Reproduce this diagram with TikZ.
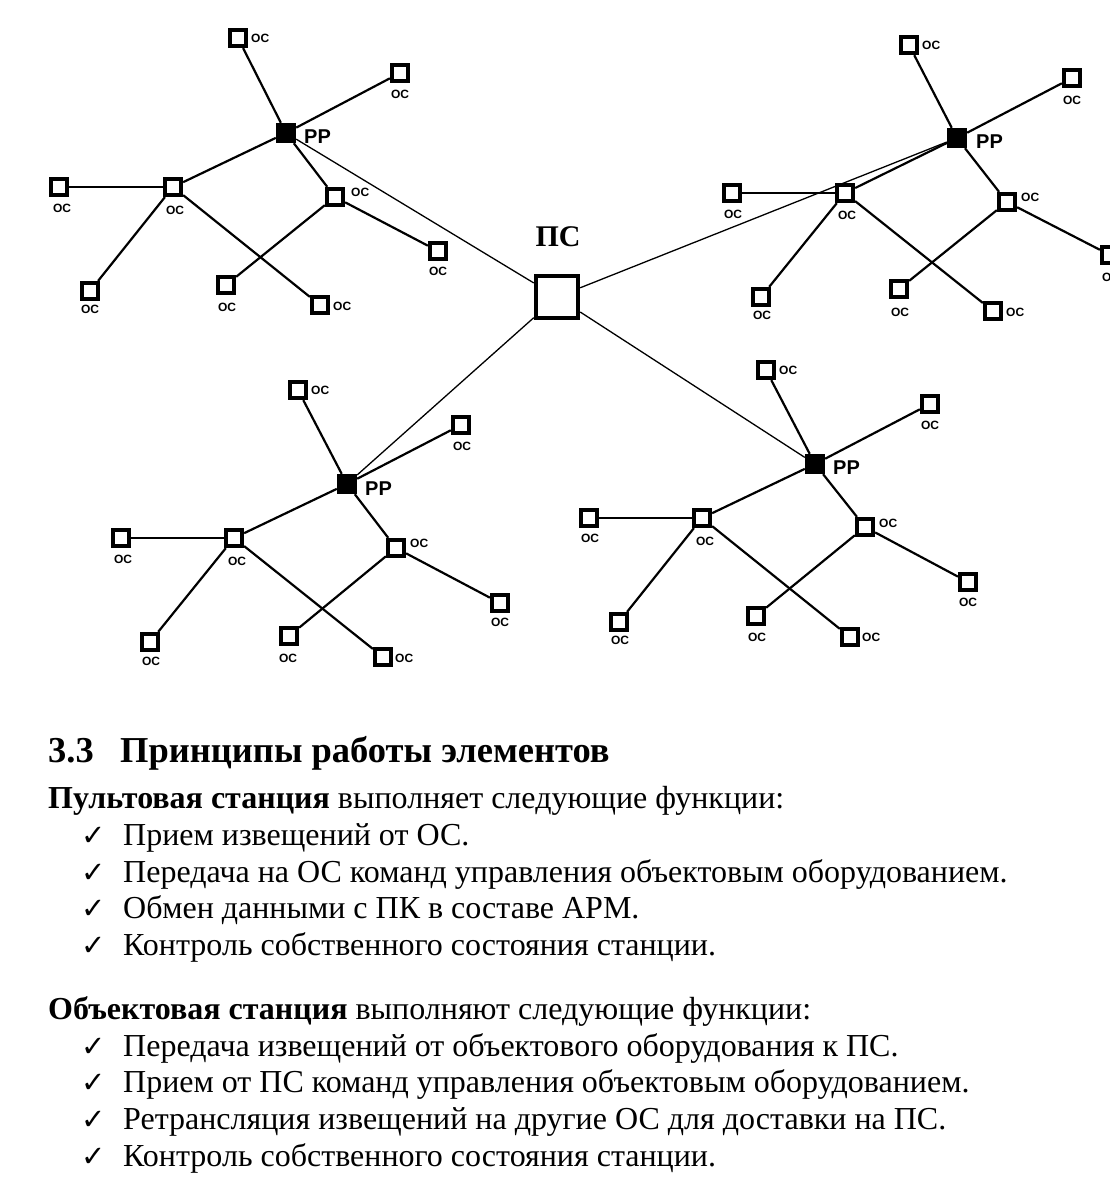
\documentclass[tikz,border=0pt]{standalone}
\usepackage{fontspec}
\setmainfont{Liberation Serif}
\newfontfamily\labfont{Liberation Sans}
\newfontfamily\symfont{DejaVu Sans}
\begin{document}
\begin{tikzpicture}[x=1pt,y=-1pt,
  os/.style={draw,line width=3.8pt,inner sep=0pt,minimum size=16.5pt,fill=white},
  rr/.style={fill=black,inner sep=0pt,minimum size=20pt},
  ps/.style={draw,line width=4.5pt,inner sep=0pt,minimum size=42pt,fill=white},
  oslab/.style={font=\labfont\bfseries\fontsize{12}{13}\selectfont,inner sep=0pt},
  rrlab/.style={font=\labfont\bfseries\fontsize{20}{22}\selectfont,inner sep=0pt,anchor=west},
  link/.style={line width=2.2pt},
  main/.style={line width=1.3pt},
  body/.style={font=\fontsize{32}{36}\selectfont,anchor=base west,inner sep=0pt},
  head/.style={font=\bfseries\fontsize{36.5}{40}\selectfont,anchor=base west,inner sep=0pt},
  chk/.style={font=\symfont\fontsize{29}{32}\selectfont,anchor=base west,inner sep=0pt},
]
\useasboundingbox (0,0) rectangle (1110,1200);

% ---------- central station ----------
\node[ps] (PS) at (557,297) {};
\node[font=\bfseries\fontsize{30}{32}\selectfont,inner sep=0pt] (PSl) at (558,237) {ПС};

% ---------- cluster A (top left) ----------
\node[rr] (Ap) at (286,133) {};
\node[rrlab] (Apl) at (304,137) {РР};
\node[os] (A1) at (238,38) {};   \node[oslab,anchor=west] (A1l) at (251,38) {ОС};
\node[os] (A2) at (400,73) {};   \node[oslab] (A2l) at (400,94) {ОС};
\node[os] (A3) at (173,187) {};  \node[oslab] (A3l) at (175,210) {ОС};
\node[os] (A4) at (59,187) {};   \node[oslab] (A4l) at (62,208) {ОС};
\node[os] (A5) at (335,197) {};  \node[oslab,anchor=west] (A5l) at (351,192) {ОС};
\node[os] (A6) at (90,291) {};   \node[oslab] (A6l) at (90,309) {ОС};
\node[os] (A7) at (226,285) {};  \node[oslab] (A7l) at (227,307) {ОС};
\node[os] (A8) at (320,305) {};  \node[oslab,anchor=west] (A8l) at (333,306) {ОС};
\node[os] (A9) at (438,251) {};  \node[oslab] (A9l) at (438,271) {ОС};

% ---------- cluster B (top right) ----------
\node[rr] (Bp) at (957,138) {};
\node[rrlab] (Bpl) at (976,142) {РР};
\node[os] (B1) at (909,45) {};   \node[oslab,anchor=west] (B1l) at (922,45) {ОС};
\node[os] (B2) at (1072,78) {};  \node[oslab] (B2l) at (1072,100) {ОС};
\node[os] (B3) at (845,193) {};  \node[oslab] (B3l) at (847,215) {ОС};
\node[os] (B4) at (732,193) {};  \node[oslab] (B4l) at (733,214) {ОС};
\node[os] (B5) at (1007,202) {}; \node[oslab,anchor=west] (B5l) at (1021,197) {ОС};
\node[os] (B6) at (761,297) {};  \node[oslab] (B6l) at (762,315) {ОС};
\node[os] (B7) at (899,289) {};  \node[oslab] (B7l) at (900,312) {ОС};
\node[os] (B8) at (993,311) {};  \node[oslab,anchor=west] (B8l) at (1006,312) {ОС};
\node[os] (B9) at (1110,255) {}; \node[oslab] (B9l) at (1111,277) {ОС};

% ---------- cluster C (bottom left) ----------
\node[rr] (Cp) at (347,484) {};
\node[rrlab] (Cpl) at (365,489) {РР};
\node[os] (C1) at (298,390) {};  \node[oslab,anchor=west] (C1l) at (311,390) {ОС};
\node[os] (C2) at (461,425) {};  \node[oslab] (C2l) at (462,446) {ОС};
\node[os] (C3) at (234,538) {};  \node[oslab] (C3l) at (237,561) {ОС};
\node[os] (C4) at (121,538) {};  \node[oslab] (C4l) at (123,559) {ОС};
\node[os] (C5) at (396,548) {};  \node[oslab,anchor=west] (C5l) at (410,543) {ОС};
\node[os] (C6) at (150,642) {};  \node[oslab] (C6l) at (151,661) {ОС};
\node[os] (C7) at (289,636) {};  \node[oslab] (C7l) at (288,658) {ОС};
\node[os] (C8) at (383,657) {};  \node[oslab,anchor=west] (C8l) at (395,658) {ОС};
\node[os] (C9) at (500,603) {};  \node[oslab] (C9l) at (500,622) {ОС};

% ---------- cluster D (bottom right) ----------
\node[rr] (Dp) at (815,464) {};
\node[rrlab] (Dpl) at (833,468) {РР};
\node[os] (D1) at (766,370) {};  \node[oslab,anchor=west] (D1l) at (779,370) {ОС};
\node[os] (D2) at (930,404) {};  \node[oslab] (D2l) at (930,425) {ОС};
\node[os] (D3) at (702,518) {};  \node[oslab] (D3l) at (705,541) {ОС};
\node[os] (D4) at (589,518) {};  \node[oslab] (D4l) at (590,538) {ОС};
\node[os] (D5) at (865,527) {};  \node[oslab,anchor=west] (D5l) at (879,523) {ОС};
\node[os] (D6) at (619,622) {};  \node[oslab] (D6l) at (620,640) {ОС};
\node[os] (D7) at (756,616) {};  \node[oslab] (D7l) at (757,637) {ОС};
\node[os] (D8) at (850,637) {};  \node[oslab,anchor=west] (D8l) at (862,637) {ОС};
\node[os] (D9) at (968,582) {};  \node[oslab] (D9l) at (968,602) {ОС};

% ---------- connectors ----------
\foreach \c in {A,B,C,D}{
  \draw[link] (\c1) -- (\c p);
  \draw[link] (\c2) -- (\c p);
  \draw[link] (\c p) -- (\c3);
  \draw[link] (\c p) -- (\c5);
  \draw[link] (\c3) -- (\c4);
  \draw[link] (\c3) -- (\c6);
  \draw[link] (\c3) -- (\c8);
  \draw[link] (\c5) -- (\c7);
  \draw[link] (\c5) -- (\c9);
  \draw[main] (PS) -- (\c p);
}

% ---------- text ----------
\node[head] (H1) at (48,762) {3.3};
\node[head] (H2) at (120,762) {Принципы работы элементов};

\node[body] (P0) at (48,808) {\textbf{Пультовая станция} выполняет следующие функции:};
\node[chk] (k1) at (81,845) {✓}; \node[body] (P1) at (123,845) {Прием извещений от ОС.};
\node[chk] (k2) at (81,882) {✓}; \node[body] (P2) at (123,882) {Передача на ОС команд управления объектовым оборудованием.};
\node[chk] (k3) at (81,918) {✓}; \node[body] (P3) at (123,918) {Обмен данными с ПК в составе АРМ.};
\node[chk] (k4) at (81,955) {✓}; \node[body] (P4) at (123,955) {Контроль собственного состояния станции.};

\node[body] (O0) at (48,1019) {\textbf{Объектовая станция} выполняют следующие функции:};
\node[chk] (m1) at (81,1056) {✓}; \node[body] (O1) at (123,1056) {Передача извещений от объектового оборудования к ПС.};
\node[chk] (m2) at (81,1092) {✓}; \node[body] (O2) at (123,1092) {Прием от ПС команд управления объектовым оборудованием.};
\node[chk] (m3) at (81,1129) {✓}; \node[body] (O3) at (123,1129) {Ретрансляция извещений на другие ОС для доставки на ПС.};
\node[chk] (m4) at (81,1166) {✓}; \node[body] (O4) at (123,1166) {Контроль собственного состояния станции.};
\end{tikzpicture}
\end{document}
